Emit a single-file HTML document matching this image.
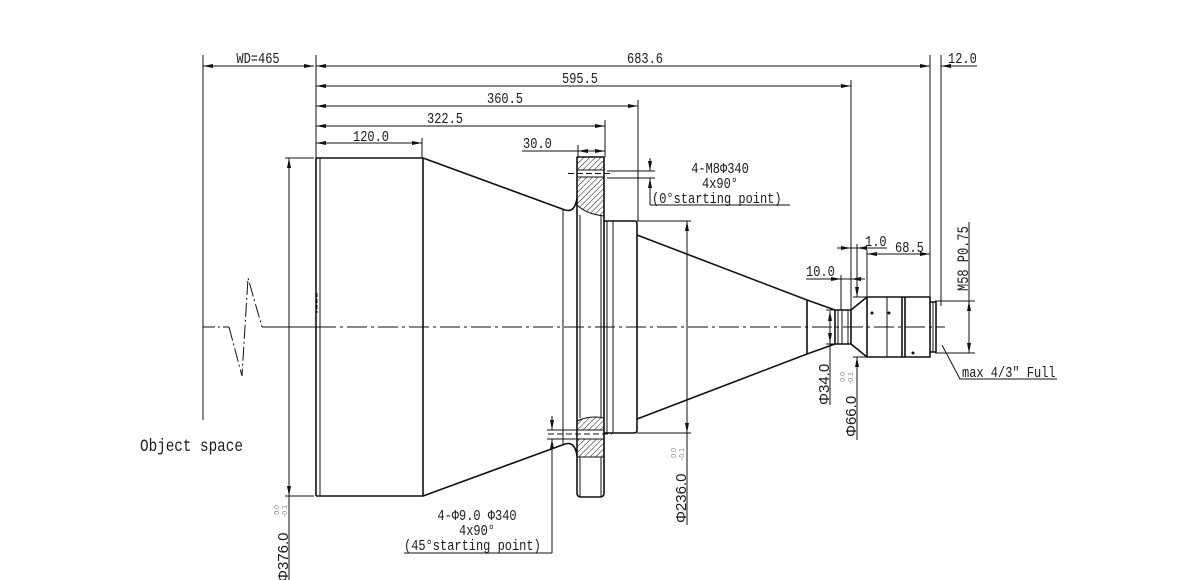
<!DOCTYPE html>
<html><head><meta charset="utf-8"><style>
html,body{margin:0;padding:0;background:#fff;}
svg{display:block;}
.m{font-family:"Liberation Mono",monospace;font-size:12px;fill:#1a1a1a;}
.s{font-family:"Liberation Sans",sans-serif;font-size:15px;fill:#1a1a1a;}
.tol{font-family:"Liberation Sans",sans-serif;font-size:7px;fill:#888;}
</style></head><body>
<svg width="1200" height="580" viewBox="0 0 1200 580" xmlns="http://www.w3.org/2000/svg">
<defs>
<marker id="a" viewBox="0 0 10 4" refX="10" refY="2" markerWidth="10" markerHeight="4" markerUnits="userSpaceOnUse" orient="auto-start-reverse"><path d="M0,0 L10,2 L0,4 Z" fill="#111"/></marker>
<pattern id="h" width="4" height="4" patternUnits="userSpaceOnUse" patternTransform="rotate(45)"><line x1="0" y1="0" x2="0" y2="4" stroke="#111" stroke-width="1"/></pattern>
</defs>
<rect width="1200" height="580" fill="#fff"/>

<!-- centerline -->
<g stroke="#111" stroke-width="1" fill="none">
<path d="M203,327 L229,327" stroke-dasharray="12,3,2,3"/>
<path d="M229,327 L242,376 L248,278 L262,327" stroke-dasharray="14,3,2,3"/>
<path d="M262,327 L316,327"/>
<path d="M316,327 L945,327" stroke-dasharray="20,4,3,4"/>
</g>

<!-- hatching -->
<g fill="url(#h)" stroke="#111" stroke-width="1">
<rect x="577" y="157" width="27" height="13"/>
<path d="M577,177 L604,177 L604,216 Q586,214 577,205 Z"/>
<path d="M577,421 Q590,415 604,418 L604,430 L577,430 Z"/>
<rect x="577" y="439" width="27" height="18"/>
</g>

<!-- main outlines -->
<g stroke="#111" stroke-width="1.6" fill="none" stroke-linejoin="round">
<path d="M316,158 L423,158 L423,496 L316,496"/>
<path d="M316,158 L316,496"/>
<path d="M423,158 L565,210 Q575,213 577,198"/>
<path d="M423,496 L565,444 Q575,441 577,456"/>
<path d="M577,157 L604,157"/>
<path d="M577,157 L577,493 Q577,497 581,497 L600,497 Q604,497 604,493 L604,157"/>
<path d="M604,221 L635,221 Q637,221 637,224 L637,430 Q637,433 634,433 L604,433"/>
<path d="M637,235 L807,300 L807,354 L637,419"/>
<path d="M807,300 L835,310 L835,344 L807,354"/>
<path d="M835,310 L851,310 L851,344 L835,344"/>
<path d="M851,310 L867,297 L930,297 L930,357 L867,357 L851,344"/>
<path d="M867,297 L867,357"/>
<path d="M930,302 L936,302 L936,352 L930,352"/>
<path d="M902,297 L902,357 M905,297 L905,357"/>
</g>
<g stroke="#111" stroke-width="1" fill="none">
<path d="M320,158 L320,496"/>
<path d="M563,210 L563,444"/>
<path d="M580,215 L580,418 M601,215 L601,418 M580,457 L580,497 M601,457 L601,497"/>
<path d="M607,221 L607,433 M613,221 L613,433"/>
<path d="M838,310 L838,344 M842,310 L842,344 M848,310 L848,344"/>
<path d="M887,297 L887,357"/>
<path d="M933,302 L933,352"/>
<path d="M577,170 L604,170 M577,177 L604,177"/>
<path d="M568,173.5 L612,173.5" stroke-dasharray="6,3"/>
<path d="M548,434 L612,434" stroke-dasharray="6,3"/>
<path d="M317,293 L317,313" stroke-dasharray="4,2"/>
</g>
<g fill="#111">
<circle cx="872" cy="313" r="1.5"/><circle cx="889" cy="313" r="1.5"/><circle cx="913" cy="353" r="1.5"/>
</g>

<!-- extension lines -->
<g stroke="#111" stroke-width="1" fill="none">
<path d="M203,55 L203,420"/>
<path d="M316,55 L316,158"/>
<path d="M422,138 L422,158"/>
<path d="M578,145 L578,157"/>
<path d="M605,120 L605,157"/>
<path d="M638,100 L638,221"/>
<path d="M851,80 L851,310"/>
<path d="M930,55 L930,297"/>
<path d="M941,55 L941,306"/>
<path d="M841,275 L841,310"/>
<path d="M867,250 L867,297"/>
<path d="M285,158 L314,158 M285,496 L314,496"/>
<path d="M637,221 L691,221 M637,433 L691,433"/>
<path d="M826,310 L835,310 M826,344 L835,344"/>
<path d="M853,297 L867,297 M853,357 L867,357"/>
<path d="M935,301 L975,301 M935,353 L975,353"/>
<path d="M607,171 L655,171 M607,178 L655,178"/>
<path d="M547,430 L580,430 M547,439 L580,439"/>
</g>

<!-- dimension lines -->
<g stroke="#111" stroke-width="1" fill="none">
<path d="M203,66 L314,66" marker-start="url(#a)" marker-end="url(#a)"/>
<path d="M316,66 L930,66" marker-start="url(#a)" marker-end="url(#a)"/>
<path d="M941,66 L977,66" marker-start="url(#a)"/>
<path d="M316,86 L851,86" marker-start="url(#a)" marker-end="url(#a)"/>
<path d="M316,106 L638,106" marker-start="url(#a)" marker-end="url(#a)"/>
<path d="M316,126 L605,126" marker-start="url(#a)" marker-end="url(#a)"/>
<path d="M316,143 L422,143" marker-start="url(#a)" marker-end="url(#a)"/>
<path d="M522,151 L578,151"/>
<path d="M578,151 L605,151" marker-start="url(#a)" marker-end="url(#a)"/>
<path d="M650,158 L650,171" marker-end="url(#a)"/>
<path d="M650,205 L650,178" marker-end="url(#a)"/>
<path d="M650,205 L790,205"/>
<path d="M552,416 L552,430" marker-end="url(#a)"/>
<path d="M552,553 L552,439" marker-end="url(#a)"/>
<path d="M404,553 L552,553"/>
<path d="M289,158 L289,496" marker-start="url(#a)" marker-end="url(#a)"/>
<path d="M289,496 L289,580"/>
<path d="M687,221 L687,433" marker-start="url(#a)" marker-end="url(#a)"/>
<path d="M687,433 L687,525"/>
<path d="M830,311 L830,343" marker-start="url(#a)" marker-end="url(#a)"/>
<path d="M830,343 L830,405"/>
<path d="M857,244 L857,297" marker-end="url(#a)"/>
<path d="M857,440 L857,357" marker-end="url(#a)"/>
<path d="M969,301 L969,353" marker-start="url(#a)" marker-end="url(#a)"/>
<path d="M969,222 L969,301"/>
<path d="M806,279 L865,279"/>
<path d="M828,279 L841,279" marker-end="url(#a)"/>
<path d="M864,279 L851,279" marker-end="url(#a)"/>
<path d="M837,248 L887,248"/>
<path d="M838,248 L851,248" marker-end="url(#a)"/>
<path d="M869,248 L857,248" marker-end="url(#a)"/>
<path d="M867,254 L930,254" marker-start="url(#a)" marker-end="url(#a)"/>
<path d="M942,345 L960,379 L1057,379"/>
</g>

<!-- horizontal texts -->
<g class="m">
<text transform="translate(258,63) scale(1,1.25)" text-anchor="middle">WD=465</text>
<text transform="translate(627,63) scale(1,1.25)">683.6</text>
<text transform="translate(948,63) scale(1,1.25)">12.0</text>
<text transform="translate(580,83) scale(1,1.25)" text-anchor="middle">595.5</text>
<text transform="translate(505,103) scale(1,1.25)" text-anchor="middle">360.5</text>
<text transform="translate(445,123) scale(1,1.25)" text-anchor="middle">322.5</text>
<text transform="translate(371,141) scale(1,1.25)" text-anchor="middle">120.0</text>
<text transform="translate(523,148) scale(1,1.25)">30.0</text>
<text transform="translate(720,173) scale(1,1.25)" text-anchor="middle">4-M8Φ340</text>
<text transform="translate(720,188) scale(1,1.25)" text-anchor="middle">4x90°</text>
<text transform="translate(652,203) scale(1,1.25)">(0°starting point)</text>
<text transform="translate(477,520) scale(1,1.25)" text-anchor="middle">4-Φ9.0 Φ340</text>
<text transform="translate(477,535) scale(1,1.25)" text-anchor="middle">4x90°</text>
<text transform="translate(404,550) scale(1,1.25)">(45°starting point)</text>
<text transform="translate(806,276) scale(1,1.25)">10.0</text>
<text transform="translate(865,246) scale(1,1.25)">1.0</text>
<text transform="translate(895,252) scale(1,1.25)">68.5</text>
<text transform="translate(962,377) scale(1,1.25)">max 4/3″ Full</text>
<text transform="translate(140,451) scale(1,1.2)" style="font-size:14.3px">Object space</text>
<text transform="translate(968,291) rotate(-90) scale(1,1.3)">M58 P0.75</text>
</g>

<!-- rotated diameter texts -->
<g class="s">
<text transform="translate(288,582) rotate(-90)">Φ376.0</text>
<text transform="translate(686,523) rotate(-90)">Φ236.0</text>
<text transform="translate(829,405) rotate(-90)">Φ34.0</text>
<text transform="translate(856,437) rotate(-90)">Φ66.0</text>
</g>
<g class="tol">
<text transform="translate(279,505) rotate(-90)" text-anchor="end">0.0</text>
<text transform="translate(287,505) rotate(-90)" text-anchor="end">-0.1</text>
<text transform="translate(676,448) rotate(-90)" text-anchor="end">0.0</text>
<text transform="translate(684,448) rotate(-90)" text-anchor="end">-0.1</text>
<text transform="translate(845,372) rotate(-90)" text-anchor="end">0.0</text>
<text transform="translate(853,372) rotate(-90)" text-anchor="end">-0.1</text>
</g>
</svg>
</body></html>
